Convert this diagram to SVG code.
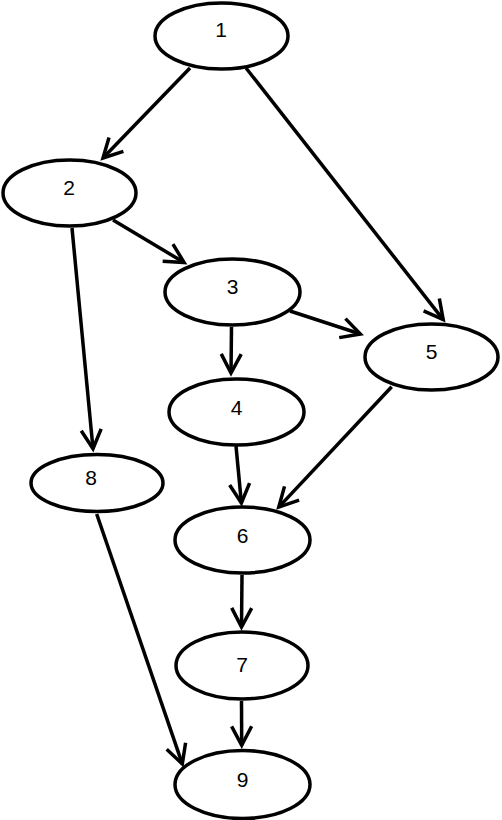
<svg xmlns="http://www.w3.org/2000/svg" width="502" height="820" viewBox="0 0 502 820">
<style>
.node ellipse{fill:#fff;stroke:#000;stroke-width:3.5}
.node text{font-family:"Liberation Sans",Arial,sans-serif;font-size:21px;text-anchor:middle;fill:#000}
.edge{stroke:#000;stroke-width:3.5;fill:none;marker-end:url(#arr)}
</style>
<defs>
<marker id="arr" markerUnits="userSpaceOnUse" refX="0" refY="0" markerWidth="30" markerHeight="30" orient="auto" overflow="visible">
<path d="M-19,-10 L0,0 L-19,10" fill="none" stroke="#000" stroke-width="3.5" stroke-linejoin="miter"/>
</marker>
</defs>
<rect width="502" height="820" fill="#fff"/>
<g id="connectors">
<line class="edge" x1="190" y1="68" x2="103" y2="158"/>
<line class="edge" x1="246" y1="68" x2="443.2" y2="319.6"/>
<line class="edge" x1="113" y1="220" x2="184.1" y2="262.5"/>
<line class="edge" x1="72" y1="228" x2="93" y2="448.7"/>
<line class="edge" x1="290" y1="311" x2="360.4" y2="334"/>
<line class="edge" x1="231.5" y1="327" x2="231" y2="373"/>
<line class="edge" x1="391.7" y1="386.7" x2="278.8" y2="507.1"/>
<line class="edge" x1="236" y1="446" x2="241.4" y2="503"/>
<line class="edge" x1="242" y1="575" x2="241.5" y2="627"/>
<line class="edge" x1="241.5" y1="701" x2="241.7" y2="745.3"/>
<line class="edge" x1="96.7" y1="514" x2="182.3" y2="763.9"/>
</g>
<g id="node1" class="node"><ellipse cx="221.5" cy="36" rx="66.5" ry="33"/><text x="221" y="37">1</text></g>
<g id="node2" class="node"><ellipse cx="69.5" cy="193" rx="66.5" ry="33"/><text x="69" y="195">2</text></g>
<g id="node3" class="node"><ellipse cx="232.5" cy="292" rx="67.5" ry="33"/><text x="232.5" y="294">3</text></g>
<g id="node5" class="node"><ellipse cx="431.5" cy="357" rx="66.5" ry="33"/><text x="431.5" y="359">5</text></g>
<g id="node4" class="node"><ellipse cx="236.5" cy="412" rx="67.5" ry="33"/><text x="236.5" y="415">4</text></g>
<g id="node8" class="node"><ellipse cx="97" cy="483" rx="66" ry="28.5"/><text x="91" y="485">8</text></g>
<g id="node6" class="node"><ellipse cx="242.5" cy="540" rx="67.5" ry="33"/><text x="242.5" y="543">6</text></g>
<g id="node7" class="node"><ellipse cx="242" cy="665.5" rx="66" ry="33.5"/><text x="242" y="672">7</text></g>
<g id="node9" class="node"><ellipse cx="242.5" cy="784.5" rx="67.5" ry="34"/><text x="242.5" y="787">9</text></g>
</svg>
